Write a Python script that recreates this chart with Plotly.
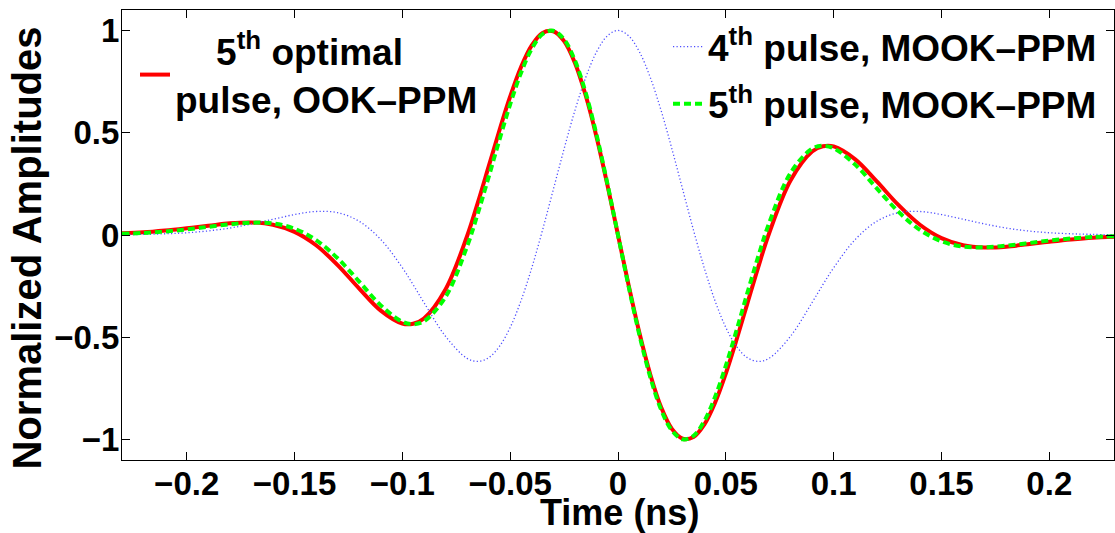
import plotly.graph_objects as go

# time axis (ns)
t_ns = [-0.23, -0.22, -0.21, -0.20, -0.19, -0.18, -0.17, -0.16, -0.15, -0.14, -0.13, -0.12, -0.11, -0.10,
        -0.095, -0.09, -0.08, -0.07, -0.065, -0.06, -0.055, -0.05, -0.045, -0.04, -0.035, -0.03, -0.025,
        -0.02, -0.015, -0.01, -0.005, 0.0, 0.005, 0.01, 0.015, 0.02, 0.025, 0.03, 0.035, 0.04, 0.045,
        0.05, 0.055, 0.06, 0.065, 0.07, 0.08, 0.09, 0.095, 0.10, 0.11, 0.12, 0.13, 0.14, 0.15, 0.16,
        0.17, 0.18, 0.19, 0.20, 0.21, 0.22, 0.23]

# 5th optimal pulse, OOK-PPM (red, solid)
optimal_5th = [0.008, 0.013, 0.022, 0.033, 0.045, 0.057, 0.061, 0.050, 0.015, -0.050, -0.147, -0.262,
               -0.370, -0.433, -0.434, -0.408, -0.266, -0.006, 0.158, 0.334, 0.511, 0.677, 0.820, 0.927,
               0.988, 0.996, 0.948, 0.842, 0.683, 0.482, 0.249, 0.0, -0.249, -0.482, -0.683, -0.842,
               -0.948, -0.996, -0.988, -0.927, -0.820, -0.677, -0.511, -0.334, -0.158, 0.006, 0.266,
               0.408, 0.434, 0.433, 0.370, 0.262, 0.147, 0.050, -0.015, -0.050, -0.061, -0.057, -0.045,
               -0.033, -0.022, -0.013, -0.008]

# 4th pulse, MOOK-PPM (blue, dotted)
mook_4th = [0.001, 0.003, 0.006, 0.011, 0.020, 0.034, 0.054, 0.077, 0.100, 0.115, 0.109, 0.067, -0.022,
            -0.160, -0.243, -0.330, -0.495, -0.603, -0.618, -0.600, -0.545, -0.452, -0.322, -0.161,
            0.024, 0.222, 0.421, 0.608, 0.769, 0.894, 0.973, 1.0, 0.973, 0.894, 0.769, 0.608, 0.421,
            0.222, 0.024, -0.161, -0.322, -0.452, -0.545, -0.600, -0.618, -0.603, -0.495, -0.330,
            -0.243, -0.160, -0.022, 0.067, 0.109, 0.115, 0.100, 0.077, 0.054, 0.034, 0.020, 0.011,
            0.006, 0.003, 0.001]

# 5th pulse, MOOK-PPM (green, dashed)
mook_5th = [0.006, 0.010, 0.017, 0.027, 0.040, 0.052, 0.060, 0.057, 0.031, -0.025, -0.114, -0.228,
            -0.344, -0.424, -0.436, -0.422, -0.303, -0.056, 0.106, 0.283, 0.465, 0.639, 0.792, 0.910,
            0.982, 0.999, 0.956, 0.854, 0.696, 0.492, 0.255, 0.0, -0.255, -0.492, -0.696, -0.854,
            -0.956, -0.999, -0.982, -0.910, -0.792, -0.639, -0.465, -0.283, -0.106, 0.056, 0.303,
            0.422, 0.436, 0.424, 0.344, 0.228, 0.114, 0.025, -0.031, -0.057, -0.060, -0.052, -0.040,
            -0.027, -0.017, -0.010, -0.006]

x_ticks = [-0.2, -0.15, -0.1, -0.05, 0, 0.05, 0.1, 0.15, 0.2]
y_ticks = [-1, -0.5, 0, 0.5, 1]

FONT = "Liberation Sans, Arial, Helvetica, sans-serif"
NB = "\u00a0"

fig = go.Figure()
fig.add_trace(go.Scatter(
    x=t_ns, y=optimal_5th, mode="lines", line=dict(color="#ff0000", width=4, shape="spline"),
    name=NB * 4 + "5<sup>th</sup> optimal<br>pulse, OOK\u2013PPM", legend="legend"))
fig.add_trace(go.Scatter(
    x=t_ns, y=mook_4th, mode="lines",
    line=dict(color="#4d4dff", width=1.3, dash="1.2px,2.3px", shape="spline"),
    name="4<sup>th</sup> pulse, MOOK\u2013PPM", legend="legend2", legendgroup="a"))
fig.add_trace(go.Scatter(
    x=t_ns, y=mook_5th, mode="lines",
    line=dict(color="#00ff00", width=4, dash="7px,4px", shape="spline"),
    name="5<sup>th</sup> pulse, MOOK\u2013PPM", legend="legend2", legendgroup="b"))

W, H = 1115, 533
ml, mr, mt, mb = 122, 1, 10, 73
pw, ph = W - ml - mr, H - mt - mb

def px_x(p):
    return (p - ml) / pw

def px_y(p):
    return (H - mb - p) / ph

tick_font = dict(family=FONT, size=33, color="black", weight="bold")

fig.update_xaxes(
    range=[-0.23, 0.23], tickmode="array", tickvals=x_ticks,
    showline=True, linecolor="black", linewidth=1, mirror="ticks",
    ticks="inside", ticklen=8, tickwidth=1, tickcolor="black",
    showgrid=False, zeroline=False, automargin=False,
    tickfont=tick_font, ticklabelstandoff=-6,
)
fig.update_yaxes(
    range=[-1.1, 1.1], tickmode="array", tickvals=y_ticks,
    showline=True, linecolor="black", linewidth=1, mirror="ticks",
    ticks="inside", ticklen=8, tickwidth=1, tickcolor="black",
    showgrid=False, zeroline=False, automargin=False,
    tickfont=tick_font, ticklabelstandoff=-5,
)

fig.update_layout(
    width=W, height=H,
    margin=dict(l=ml, r=mr, t=mt, b=mb),
    paper_bgcolor="white", plot_bgcolor="white",
    font=dict(family=FONT, color="black"),
    legend=dict(
        x=px_x(135), y=px_y(20), xanchor="left", yanchor="top",
        bgcolor="rgba(0,0,0,0)", borderwidth=0,
        font=dict(family=FONT, size=37, color="black", weight="bold"),
    ),
    legend2=dict(
        x=px_x(668), y=px_y(16), xanchor="left", yanchor="top",
        bgcolor="rgba(0,0,0,0)", borderwidth=0, traceorder="grouped", tracegroupgap=6,
        font=dict(family=FONT, size=37, color="black", weight="bold"),
    ),
    annotations=[
        dict(text="<b>Normalized Amplitudes</b>", textangle=-90, showarrow=False,
             xref="paper", yref="paper", x=px_x(26), y=px_y(248.5),
             xanchor="center", yanchor="middle",
             font=dict(family=FONT, size=40, color="black")),
        dict(text="<b>Time (ns)</b>", showarrow=False,
             xref="paper", yref="paper", x=px_x(619), y=px_y(512),
             xanchor="center", yanchor="middle",
             font=dict(family=FONT, size=36, color="black")),
    ],
    showlegend=True,
)

fig.write_html(
    "out.html",
    config={"displayModeBar": False},
    post_script="document.body.style.margin='0px';document.body.style.overflow='hidden';",
)
